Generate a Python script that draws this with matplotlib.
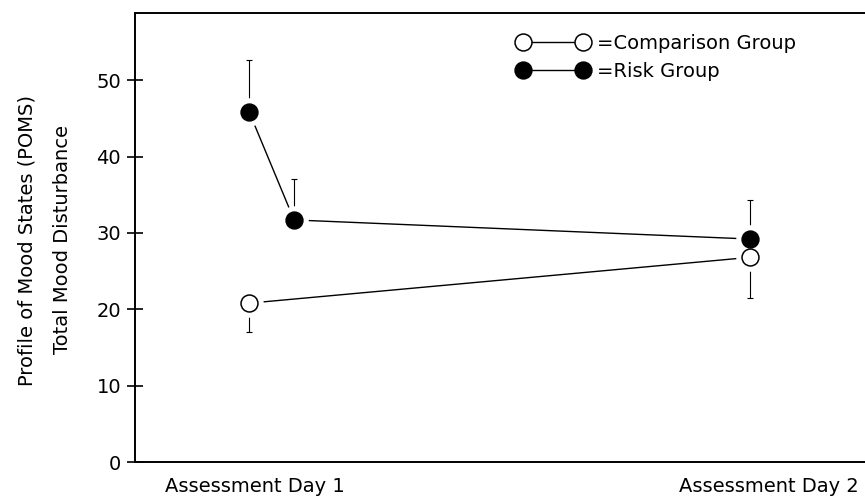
import matplotlib
matplotlib.use("Agg")
import matplotlib.pyplot as plt
from matplotlib.lines import Line2D
from matplotlib.legend_handler import HandlerLine2D

# valores
risk_x = [1.0, 1.09, 2.0]
risk_y = [45.9, 31.7, 29.2]
risk_up = [6.8, 5.3, 5.1]

comp_x = [1.0, 2.0]
comp_y = [20.8, 26.8]
comp_down = [3.8, 5.3]

day_labels = ["Assessment Day 1", "Assessment Day 2"]
day_label_pos = [1.012, 2.038]
y_ticks = [0, 10, 20, 30, 40, 50]

plt.rcParams['font.family'] = ['DejaVu Sans']

fig = plt.figure(figsize=(8.65, 4.98), dpi=100)
ax = fig.add_axes([135 / 865, 36 / 498, 730 / 865, 449 / 498])

ms = 12.2
halo = 19.5

# lineas que unen los puntos
ax.plot(risk_x, risk_y, color='black', lw=1.0, zorder=2)
ax.plot(comp_x, comp_y, color='black', lw=1.0, zorder=2)

# barras de error de un solo lado
ax.errorbar(risk_x, risk_y, yerr=[[0] * len(risk_y), risk_up], fmt='none',
            ecolor='black', elinewidth=0.8, capsize=2.5, capthick=0.8, zorder=2)
ax.errorbar(comp_x, comp_y, yerr=[comp_down, [0] * len(comp_y)], fmt='none',
            ecolor='black', elinewidth=0.8, capsize=2.5, capthick=0.8, zorder=2)

# halo blanco para dejar hueco alrededor de los marcadores
ax.plot(risk_x, risk_y, 'o', ms=halo, mfc='white', mec='white', ls='none', zorder=3)
ax.plot(comp_x, comp_y, 'o', ms=halo, mfc='white', mec='white', ls='none', zorder=3)

ax.plot(comp_x, comp_y, 'o', ms=ms, mfc='white', mec='black', mew=1.1, ls='none', zorder=4)
ax.plot(risk_x, risk_y, 'o', ms=ms, mfc='black', mec='black', ls='none', zorder=4)

ax.set_xlim(0.7725, 2.2295)
ax.set_ylim(0, 58.8)

ax.set_yticks(y_ticks)
ax.set_yticklabels([str(t) for t in y_ticks], fontsize=14)
ax.tick_params(axis='y', direction='inout', length=12, width=1.2, pad=4)

ax.set_xticks(day_label_pos)
ax.set_xticklabels(day_labels, fontsize=14)
ax.tick_params(axis='x', length=0, pad=11)

ax.spines['right'].set_visible(False)
for s in ['left', 'bottom', 'top']:
    ax.spines[s].set_linewidth(1.4)

# etiquetas del eje y en dos lineas
fig.text(27 / 865, 1 - 240 / 498, "Profile of Mood States (POMS)", rotation=90,
         ha='center', va='center', fontsize=14)
fig.text(63 / 865, 1 - 240 / 498, "Total Mood Disturbance", rotation=90,
         ha='center', va='center', fontsize=14)

h_comp = Line2D([], [], color='black', lw=1.0, marker='o', ms=ms,
                mfc='white', mec='black', mew=1.1)
h_risk = Line2D([], [], color='black', lw=1.0, marker='o', ms=ms,
                mfc='black', mec='black')
ax.legend([h_comp, h_risk], ["=Comparison Group", "=Risk Group"],
          loc='upper left', bbox_to_anchor=(0.5315, 0.954), frameon=False,
          numpoints=2, handlelength=3.1, handletextpad=0.7, borderpad=0,
          borderaxespad=0, labelspacing=0.46, fontsize=14,
          handler_map={Line2D: HandlerLine2D(marker_pad=0)})

plt.savefig("out.png", dpi=100)
